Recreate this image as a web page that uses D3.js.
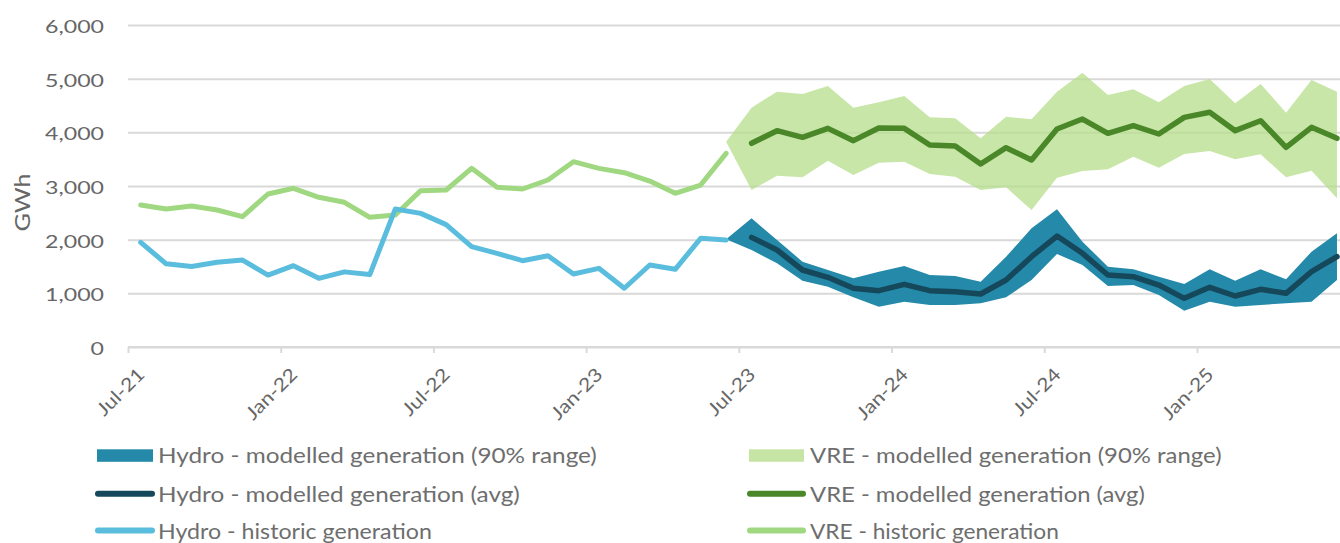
<!DOCTYPE html>
<html>
<head>
<meta charset="utf-8">
<script src="https://cdn.jsdelivr.net/npm/d3@7"></script>
<style>
  body { margin: 0; background: #fff; }
  svg { display: block; }
  text { font-family: Lato, "Noto Sans", sans-serif; }
</style>
</head>
<body>
<svg id="chart" width="1340" height="543"></svg>
<script>
// ---- Data (GWh per month) ----
const firstMonth = new Date(Date.UTC(2021, 6, 1));   // Jul-21
const lastMonth  = new Date(Date.UTC(2025, 5, 1));   // Jun-25
const months = d3.utcMonth.range(firstMonth, d3.utcMonth.offset(lastMonth, 1)).map(d3.utcFormat("%b-%y"));

// Historic generation, Jul-21 .. Jun-23
const hydroHistoric = [1950, 1550, 1500, 1580, 1620, 1340, 1515, 1280, 1400, 1350, 2570, 2490,
                       2280, 1870, 1745, 1608, 1700, 1360, 1466, 1095, 1528, 1448, 2025, 1994];
const vreHistoric   = [2646, 2571, 2627, 2553, 2428, 2851, 2957, 2789, 2696, 2416, 2460, 2913,
                       2925, 3329, 2975, 2944, 3112, 3453, 3329, 3248, 3093, 2863, 3018, 3609];

// Modelled 90% range, Jun-23 .. Jun-25
const vreUpper   = [3826, 4460, 4757, 4714, 4863, 4460, 4559, 4677, 4279, 4261, 3888, 4292, 4242,
                    4757, 5111, 4695, 4801, 4559, 4863, 4994, 4540, 4900, 4366, 4975, 4757];
const vreLower   = [3826, 2925, 3192, 3161, 3472, 3205, 3435, 3453, 3223, 3174, 2925, 2975, 2553,
                    3155, 3279, 3311, 3546, 3341, 3596, 3652, 3497, 3590, 3161, 3285, 2770];
const hydroUpper = [2006, 2397, 1994, 1590, 1435, 1279, 1404, 1509, 1342, 1323, 1217, 1683, 2211,
                    2565, 1963, 1497, 1447, 1311, 1174, 1447, 1236, 1447, 1261, 1776, 2118];
const hydroLower = [2006, 1807, 1559, 1236, 1124,  925,  752,  845,  783,  783,  814,  925, 1250,
                    1733, 1528, 1137, 1155,  969,  677,  845,  752,  783,  814,  845, 1248];

// Modelled average, Jul-23 .. Jun-25
const vreAvg   = [3795, 4031, 3907, 4074, 3845, 4081, 4074, 3764, 3745, 3410, 3714, 3484,
                  4062, 4248, 3981, 4124, 3969, 4279, 4373, 4031, 4217, 3720, 4093, 3888];
const hydroAvg = [2043, 1807, 1435, 1298, 1093, 1050, 1168, 1050, 1031,  988, 1248, 1683,
                  2068, 1745, 1342, 1311, 1155,  907, 1112,  950, 1075, 1000, 1404, 1683];

const yTicks = [0, 1000, 2000, 3000, 4000, 5000, 6000];
const xTickLabels = ["Jul-21", "Jan-22", "Jul-22", "Jan-23", "Jul-23", "Jan-24", "Jul-24", "Jan-25"];

const legendItems = [
  { label: "Hydro - modelled generation (90% range)", kind: "rect", color: "#2589a9", width: 439 },
  { label: "Hydro - modelled generation (avg)",       kind: "line", color: "#15485a", width: 362 },
  { label: "Hydro - historic generation",             kind: "line", color: "#5bbddd", width: 274 },
  { label: "VRE - modelled generation (90% range)",   kind: "rect", color: "#c6e5a5", width: 412 },
  { label: "VRE - modelled generation (avg)",         kind: "line", color: "#4a8728", width: 335 },
  { label: "VRE - historic generation",               kind: "line", color: "#a0d882", width: 249 }
];

// ---- Layout ----
const svg = d3.select("#chart");
const W = 1340;
const plotLeft = 128, plotTop = 25, plotBottom = 347;
const monthStep = 25.452;
const textColor = "#666666";
const legendColor = "#6e6e6e";
const gridColor = "#d9d9d9";

const x = d3.scaleBand().domain(months).range([plotLeft, plotLeft + months.length * monthStep]);
const cx = m => x(m) + x.bandwidth() / 2;
const y = d3.scaleLinear().domain([0, 6000]).range([plotBottom, plotTop]);

// horizontal stretch factor so a string spans a given width
function stretchFor(str, size, target) {
  const t = svg.append("text").attr("font-size", size).text(str);
  const w = t.node().getComputedTextLength();
  t.remove();
  return target / w;
}

// ---- Gridlines + y axis ----
const ySize = 18;
const ySx = stretchFor("6,000", ySize, 59);
const yAxis = svg.append("g")
  .attr("transform", `translate(${plotLeft},0)`)
  .call(d3.axisLeft(y).tickValues(yTicks).tickFormat(d3.format(",")).tickSize(-(W - plotLeft)).tickPadding(0));
yAxis.select(".domain").remove();
yAxis.selectAll(".tick line").attr("stroke", gridColor).attr("stroke-width", 2);
yAxis.selectAll(".tick text")
  .attr("x", 0).attr("dy", "0.36em")
  .attr("transform", `translate(-24,1) scale(${ySx},1)`)
  .attr("font-size", ySize).attr("fill", textColor).attr("text-anchor", "end");

// ---- x axis (ticks at month boundaries, every 6 months) ----
const xEdge = d3.scaleOrdinal().domain(months).range(months.map(m => x(m)));
const xAxis = svg.append("g")
  .attr("transform", `translate(0,${plotBottom})`)
  .call(d3.axisBottom(xEdge).tickValues(xTickLabels).tickSize(6).tickSizeOuter(0));
xAxis.select(".domain").attr("stroke", gridColor).attr("stroke-width", 2)
  .attr("d", `M${plotLeft},0H${plotLeft + months.length * monthStep}`);
xAxis.selectAll(".tick line").attr("stroke", gridColor).attr("stroke-width", 2);
const xSize = 18.5;
const xSx = stretchFor("Jan-22", xSize, 64);
xAxis.selectAll(".tick text")
  .attr("x", 0).attr("y", 0).attr("dy", "0.36em")
  .attr("text-anchor", "end").attr("font-size", xSize).attr("fill", textColor)
  .attr("transform", `translate(12.5,24) rotate(-45) scale(${xSx},1)`);

// ---- y axis title ----
const gwhSx = stretchFor("GWh", 21, 58);
svg.append("text")
  .attr("transform", `translate(30,202.5) rotate(-90) scale(${gwhSx},1)`)
  .attr("text-anchor", "middle").attr("font-size", 21).attr("fill", textColor)
  .text("GWh");

// ---- Series ----
const plot = svg.append("g");
const bandMonths = months.slice(23);
const avgMonths = months.slice(24);
const histMonths = months.slice(0, 24);

const area = d3.area().x(d => cx(d.m)).y0(d => y(d.lo)).y1(d => y(d.hi));
const line = d3.line().x(d => cx(d.m)).y(d => y(d.v));

const vreBand = bandMonths.map((m, i) => ({ m, lo: vreLower[i], hi: vreUpper[i] }));
const hydroBand = bandMonths.map((m, i) => ({ m, lo: hydroLower[i], hi: hydroUpper[i] }));

plot.append("path").datum(vreBand).attr("d", area)
  .attr("fill", "#b4de8a").attr("fill-opacity", 0.75);
plot.append("path").datum(hydroBand).attr("d", area)
  .attr("fill", "#2589a9");

function drawLine(ms, vals, color, width) {
  plot.append("path").datum(ms.map((m, i) => ({ m, v: vals[i] })))
    .attr("d", line).attr("fill", "none").attr("stroke", color)
    .attr("stroke-width", width).attr("stroke-linejoin", "round").attr("stroke-linecap", "round");
}
drawLine(histMonths, vreHistoric, "#a0d882", 5);
drawLine(histMonths, hydroHistoric, "#5bbddd", 5);
drawLine(avgMonths, vreAvg, "#4a8728", 5.5);
drawLine(avgMonths, hydroAvg, "#15485a", 5.5);

// ---- Legend ----
const legSize = 20.5;
const cols = [{ sx: 97, ex: 153, lx: 95, tx: 158 }, { sx: 749, ex: 804, lx: 747, tx: 810 }];
const rowBase = [463.3, 501.7, 538.6];
legendItems.forEach((it, k) => {
  const c = cols[Math.floor(k / 3)], b = rowBase[k % 3];
  const g = svg.append("g");
  if (it.kind === "rect") {
    g.append("rect").attr("x", c.sx).attr("y", b - 14).attr("width", c.ex - c.sx).attr("height", 12.5)
      .attr("fill", it.color);
  } else {
    g.append("line").attr("x1", c.lx + 3).attr("x2", c.ex - 1).attr("y1", b - 8).attr("y2", b - 8)
      .attr("stroke", it.color).attr("stroke-width", 6).attr("stroke-linecap", "round");
  }
  const sx = stretchFor(it.label, legSize, it.width);
  g.append("text").attr("transform", `translate(${c.tx},${b}) scale(${sx},1)`)
    .attr("font-size", legSize).attr("fill", legendColor).text(it.label);
});
</script>
</body>
</html>
